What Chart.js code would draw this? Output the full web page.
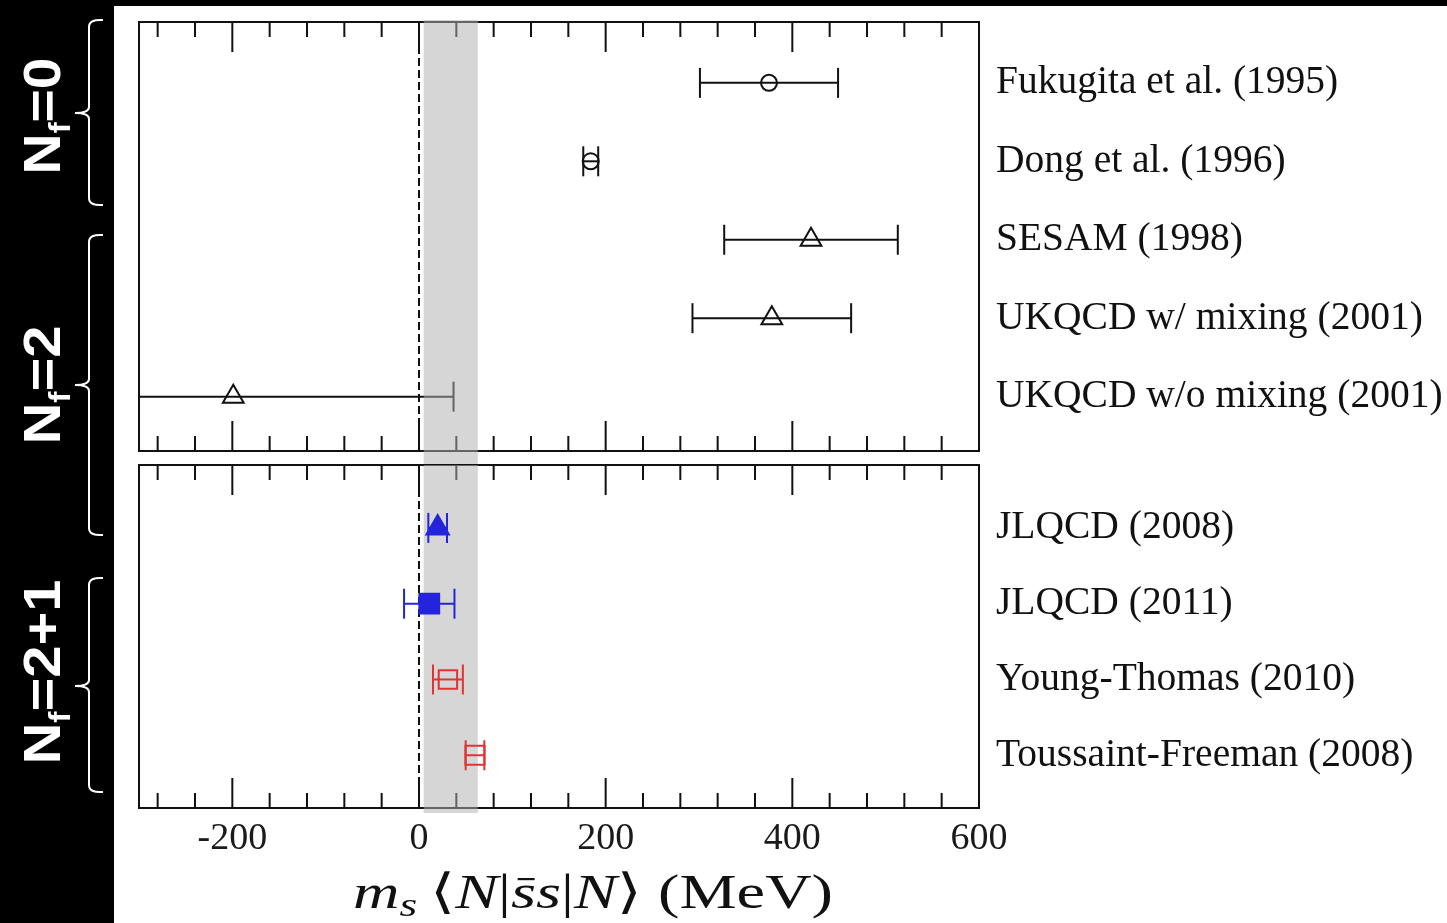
<!DOCTYPE html>
<html><head><meta charset="utf-8">
<script src="https://cdn.jsdelivr.net/npm/chart.js@4.4.1/dist/chart.umd.min.js"></script>
<style>
html,body{margin:0;padding:0;background:#000;overflow:hidden}
#wrap{position:relative;width:1447px;height:923px}
canvas{position:absolute;left:0;top:0}
</style></head><body>
<div id="wrap">
<canvas id="c1" width="1447" height="923" style="width:1447px;height:923px"></canvas>
<canvas id="c2" width="1447" height="923" style="width:1447px;height:923px"></canvas>
</div>
<script>
// ---------------- data ----------------
const topLabels = ['Fukugita et al. (1995)', 'Dong et al. (1996)', 'SESAM (1998)', 'UKQCD w/ mixing (2001)', 'UKQCD w/o mixing (2001)'];
const topValues = [375, 184, 420, 378, -199];
const topErrors = [74, 8, 93, 85, 236];
const bottomLabels = ['JLQCD (2008)', 'JLQCD (2011)', 'Young-Thomas (2010)', 'Toussaint-Freeman (2008)'];
const bottomValues = [20, 11, 31, 60];
const bottomErrors = [10, 27, 16, 10];
const bandRange = [5, 63];
const xTickValues = [-200, 0, 200, 400, 600];
const flavourLabels = [['N', 'f', '=0'], ['N', 'f', '=2'], ['N', 'f', '=2+1']];

// ---------------- styles ----------------
const BLACK = '#111', BLUE = '#2424dc', RED = '#e03434';
const topStyles = [
  {shape: 'circle', r: 8, color: BLACK, fill: false},
  {shape: 'circle', r: 8, color: BLACK, fill: false},
  {shape: 'triangle', r: 12, color: BLACK, fill: false},
  {shape: 'triangle', r: 12, color: BLACK, fill: false},
  {shape: 'triangle', r: 12, color: BLACK, fill: false}
];
const bottomStyles = [
  {shape: 'triangle', r: 13, color: BLUE, fill: true},
  {shape: 'rect', r: 14, color: BLUE, fill: true},
  {shape: 'rect', r: 13, color: RED, fill: false},
  {shape: 'rect', r: 13.5, color: RED, fill: false}
];
const SERIF = '"Liberation Serif", "Times New Roman", serif';

function buildDatasets(values, errors, styles) {
  const ds = [];
  values.forEach((v, i) => {
    const s = styles[i];
    ds.push({
      type: 'line', order: 1, showLine: true,
      data: [{x: v - errors[i], y: i}, {x: v + errors[i], y: i}],
      borderColor: s.color, borderWidth: 2, fill: false, tension: 0,
      pointStyle: 'line', pointRotation: 90, pointRadius: 15, pointHoverRadius: 15,
      pointBorderColor: s.color, pointBorderWidth: 2, pointBackgroundColor: s.color
    });
    ds.push({
      type: 'scatter', order: 0,
      data: [{x: v, y: i}],
      pointStyle: s.shape, pointRadius: s.r, pointHoverRadius: s.r,
      pointBorderColor: s.color, pointBorderWidth: 2,
      pointBackgroundColor: s.fill ? s.color : 'rgba(0,0,0,0)'
    });
  });
  return ds;
}

function drawBand(chart, extraTop, extraBottom) {
  const {ctx, chartArea: a, scales: {x}} = chart;
  const x1 = x.getPixelForValue(bandRange[0]), x2 = x.getPixelForValue(bandRange[1]);
  ctx.save();
  ctx.fillStyle = 'rgba(176,176,176,0.52)';
  ctx.fillRect(x1, a.top - extraTop, x2 - x1, a.bottom - a.top + extraTop + extraBottom);
  ctx.restore();
}

function panelPlugin(name, bandOnTop, extraTop, extraBottom) {
  return {
    id: 'panel' + name,
    beforeDatasetsDraw(chart) {
      const {ctx, chartArea: a, scales: {x}} = chart;
      ctx.save();
      ctx.strokeStyle = BLACK; ctx.lineWidth = 2;
      const x0 = x.getPixelForValue(0);
      ctx.setLineDash([8, 4]);
      ctx.beginPath(); ctx.moveTo(x0, a.top); ctx.lineTo(x0, a.bottom); ctx.stroke();
      ctx.setLineDash([]);
      ctx.strokeRect(a.left, a.top, a.right - a.left, a.bottom - a.top);
      for (let v = Math.ceil(x.min / 40) * 40; v < x.max; v += 40) {
        if (v <= x.min) continue;
        const px = x.getPixelForValue(v);
        const len = (v % 200 === 0) ? 30 : 15;
        ctx.beginPath();
        ctx.moveTo(px, a.top); ctx.lineTo(px, a.top + len);
        ctx.moveTo(px, a.bottom); ctx.lineTo(px, a.bottom - len);
        ctx.stroke();
      }
      ctx.restore();
      if (!bandOnTop) drawBand(chart, extraTop, extraBottom);
    },
    afterDatasetsDraw(chart) {
      if (bandOnTop) drawBand(chart, extraTop, extraBottom);
    }
  };
}

function brace(ctx, x, tip, y0, yc, y1) {
  ctx.beginPath();
  ctx.moveTo(x + 14, y0);
  ctx.quadraticCurveTo(x, y0 - 1, x, y0 + 7);
  ctx.lineTo(x, yc - 6);
  ctx.quadraticCurveTo(x, yc, tip, yc);
  ctx.quadraticCurveTo(x, yc, x, yc + 6);
  ctx.lineTo(x, y1 - 7);
  ctx.quadraticCurveTo(x, y1 + 1, x + 14, y1);
  ctx.stroke();
}

function drawFlavour(ctx, parts, cx, cy, target) {
  const big = 'bold 52px "Liberation Sans", Arial, sans-serif';
  const small = 'bold 30px "Liberation Sans", Arial, sans-serif';
  ctx.save();
  ctx.translate(cx, cy);
  ctx.rotate(-Math.PI / 2);
  ctx.font = big; const w1 = ctx.measureText(parts[0]).width;
  ctx.font = small; const w2 = ctx.measureText(parts[1]).width;
  ctx.font = big; const w3 = ctx.measureText(parts[2]).width;
  const total = w1 + w2 + w3;
  ctx.scale(target / total, 1);
  let px = -total / 2;
  ctx.fillStyle = '#fff'; ctx.textBaseline = 'alphabetic'; ctx.textAlign = 'left';
  ctx.font = big; ctx.fillText(parts[0], px, 0); px += w1;
  ctx.font = small; ctx.fillText(parts[1], px, 10); px += w2;
  ctx.font = big; ctx.fillText(parts[2], px, 0);
  ctx.restore();
}

const backgroundPlugin = {
  id: 'bg',
  beforeDraw(chart) {
    const ctx = chart.ctx;
    ctx.save();
    ctx.fillStyle = '#000'; ctx.fillRect(0, 0, chart.width, chart.height);
    ctx.fillStyle = '#fff'; ctx.fillRect(114, 6, chart.width - 114, chart.height - 6);
    ctx.strokeStyle = '#fff'; ctx.lineWidth = 2;
    brace(ctx, 89, 75, 20, 113, 205);
    brace(ctx, 89, 75, 235, 385, 535);
    brace(ctx, 89, 75, 578, 686, 792);
    drawFlavour(ctx, flavourLabels[0], 60, 116, 117);
    drawFlavour(ctx, flavourLabels[1], 60, 385, 119);
    drawFlavour(ctx, flavourLabels[2], 60, 672, 185);
    ctx.restore();
  }
};

const titleParts = [
  {t: 'm', font: `italic 48px ${SERIF}`, dy: 0},
  {t: 's', font: `italic 34px ${SERIF}`, dy: 8},
  {t: '\u2009', font: `48px ${SERIF}`, dy: 0},
  {t: '\u27E8', font: `48px "DejaVu Serif", serif`, dy: 0},
  {t: 'N', font: `italic 48px ${SERIF}`, dy: 0},
  {t: '|', font: `48px ${SERIF}`, dy: 0},
  {t: 's', font: `italic 48px ${SERIF}`, dy: 0, bar: true},
  {t: 's', font: `italic 48px ${SERIF}`, dy: 0},
  {t: '|', font: `48px ${SERIF}`, dy: 0},
  {t: 'N', font: `italic 48px ${SERIF}`, dy: 0},
  {t: '\u27E9', font: `48px "DejaVu Serif", serif`, dy: 0},
  {t: ' (MeV)', font: `48px ${SERIF}`, dy: 0}
];

const titlePlugin = {
  id: 'xtitle',
  afterDraw(chart) {
    const ctx = chart.ctx;
    ctx.save();
    let total = 0;
    const widths = titleParts.map(p => { ctx.font = p.font; const w = ctx.measureText(p.t).width; total += w; return w; });
    const left = 353, right = 833, base = 908;
    ctx.translate(left, base);
    ctx.scale((right - left) / total, 1);
    ctx.fillStyle = '#111'; ctx.textBaseline = 'alphabetic'; ctx.textAlign = 'left';
    let px = 0;
    titleParts.forEach((p, i) => {
      ctx.font = p.font;
      ctx.fillText(p.t, px, p.dy);
      if (p.bar) {
        ctx.fillRect(px + 5, -30, widths[i] - 6, 2.2);
      }
      px += widths[i];
    });
    ctx.restore();
  }
};

function yAxis(labels, min, max) {
  return {
    type: 'linear', position: 'right', reverse: true, min: min, max: max,
    afterBuildTicks: s => { s.ticks = labels.map((_, i) => ({value: i})); },
    afterFit: s => { s.width = 468; s.paddingTop = 0; s.paddingBottom = 0; },
    grid: {display: false, drawTicks: false},
    border: {display: false},
    ticks: {
      autoSkip: false,
      callback: (v, i) => labels[i],
      font: {family: SERIF, size: 39.5},
      color: '#111', padding: 17
    }
  };
}

const common = {
  responsive: false, animation: false, events: [],
  plugins: {legend: {display: false}, tooltip: {enabled: false}, title: {display: false}}
};

new Chart(document.getElementById('c1'), {
  type: 'scatter',
  data: {datasets: buildDatasets(topValues, topErrors, topStyles)},
  options: Object.assign({}, common, {
    layout: {padding: {left: 139, top: 22, right: 0, bottom: 472}},
    scales: {
      x: {type: 'linear', min: -300, max: 600, display: false},
      y: yAxis(topLabels, -0.776, 4.693)
    }
  }),
  plugins: [backgroundPlugin, panelPlugin('top', true, 2, 14)]
});

new Chart(document.getElementById('c2'), {
  type: 'scatter',
  data: {datasets: buildDatasets(bottomValues, bottomErrors, bottomStyles)},
  options: Object.assign({}, common, {
    layout: {padding: {left: 139, top: 465, right: 0, bottom: 0}},
    scales: {
      x: {
        type: 'linear', min: -300, max: 600, position: 'bottom',
        afterBuildTicks: s => { s.ticks = xTickValues.map(v => ({value: v})); },
        afterFit: s => { s.height = 115; },
        grid: {display: false, drawTicks: false},
        border: {display: false},
        ticks: {
          autoSkip: false, maxRotation: 0, minRotation: 0,
          callback: v => String(v),
          font: {family: SERIF, size: 38}, color: '#1a1a1a', padding: 8
        }
      },
      y: yAxis(bottomLabels, -0.83, 3.696)
    }
  }),
  plugins: [panelPlugin('bottom', false, 0, 5), titlePlugin]
});
</script>
</body></html>
